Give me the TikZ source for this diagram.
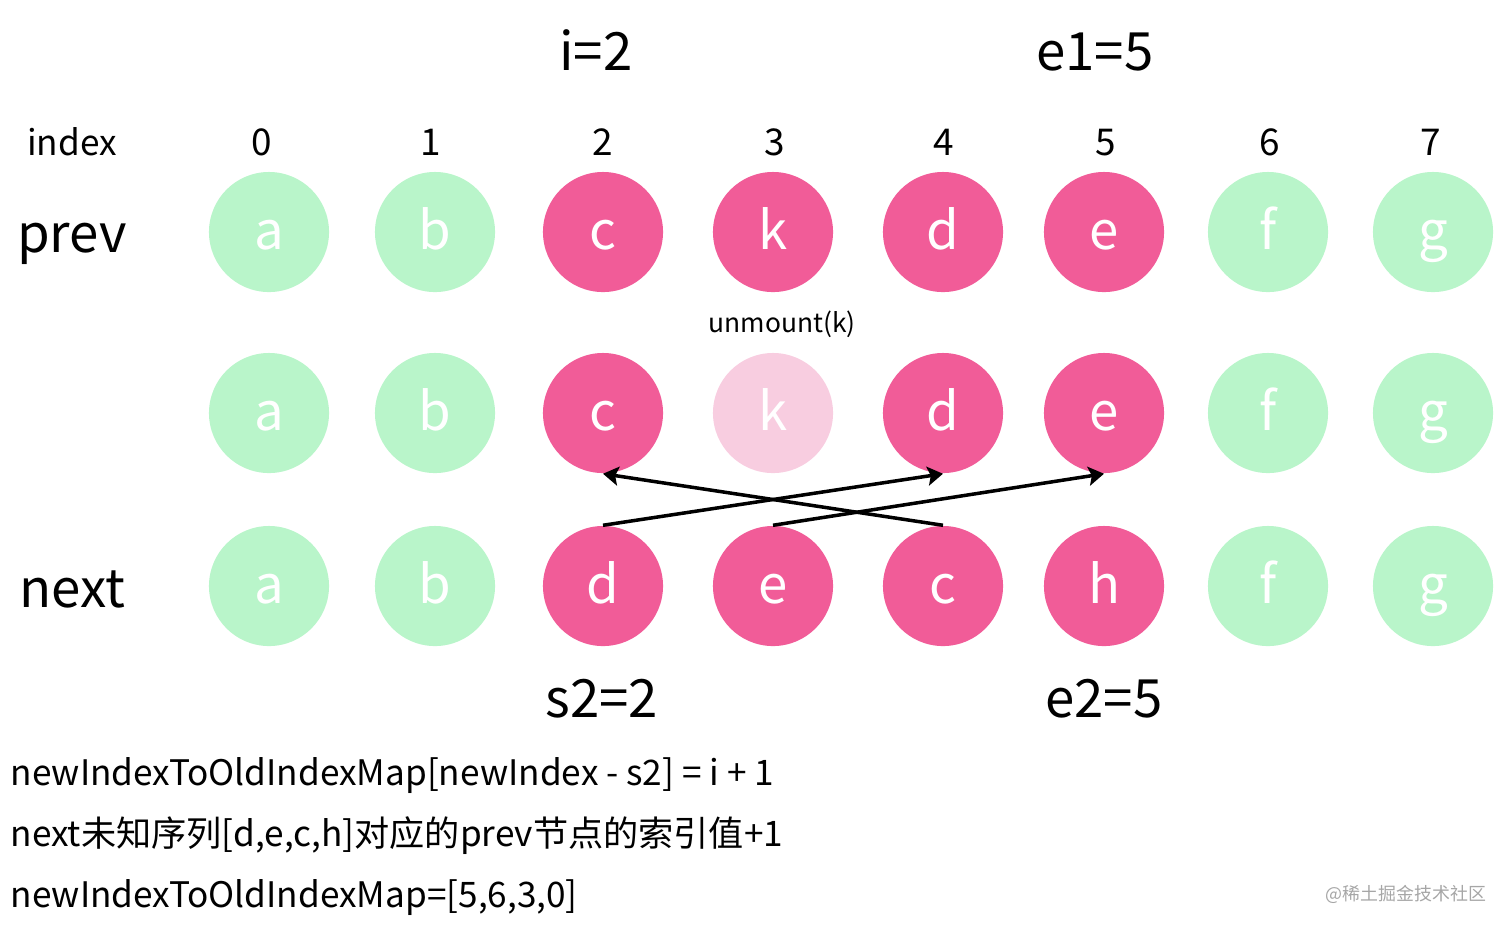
\documentclass[tikz,border=0pt]{standalone}
\usepackage{fontspec}
\setmainfont{Noto Sans CJK SC}
\usetikzlibrary{arrows.meta}
\definecolor{mint}{HTML}{B9F5CA}
\definecolor{rose}{HTML}{F15C98}
\definecolor{blush}{HTML}{F8CDE0}
\newcommand\fsz[1]{\fontsize{#1}{#1}\selectfont}
\begin{document}
\begin{tikzpicture}[x=0.01cm,y=-0.01cm,>={Stealth[length=4.4pt,width=5.4pt,inset=0.9pt]},
    ball/.style={circle,minimum size=1.2cm,inner sep=0,text=white,font=\fsz{15pt},text height=1em,text depth=0pt},
    old/.style={ball,fill=mint},
    hot/.style={ball,fill=rose},
    gone/.style={ball,fill=blush},
    lbl/.style={anchor=base,inner sep=0},
    big/.style={lbl,font=\fsz{15pt}},
    row/.style={lbl,font=\fsz{15pt}},
    note/.style={lbl,anchor=base west,font=\fsz{10pt}}]
    \useasboundingbox (0,0) rectangle (1512,929);
    \node[big] (i) at (596,70) {i=2};
    \node[big] (e1) at (1095,70) {e1=5};
    \node[lbl,font=\fsz{10pt}] (index) at (72,155) {index};
    \foreach \x [count=\i from 0] in {262,431,603,775,944,1106,1270,1431}
        \node[lbl,font=\fsz{10.5pt}] (d\i) at (\x,155) {\i};
    \node[row] (prev) at (72,252) {prev};
    \node[row] (next) at (72,607) {next};
    \foreach \x/\t/\s [count=\i from 0] in {269/a/old,435/b/old,603/c/hot,773/k/hot,943/d/hot,1104/e/hot,1268/f/old,1433/g/old}
        \node[\s] (p\i) at (\x,232) {\t};
    \node[lbl,font=\fsz{7.5pt}] (um) at (782,332) {unmount(k)};
    \foreach \x/\t/\s [count=\i from 0] in {269/a/old,435/b/old,603/c/hot,773/k/gone,943/d/hot,1104/e/hot,1268/f/old,1433/g/old}
        \node[\s] (m\i) at (\x,413) {\t};
    \foreach \x/\t/\s [count=\i from 0] in {269/a/old,435/b/old,603/d/hot,773/e/hot,943/c/hot,1104/h/hot,1268/f/old,1433/g/old}
        \node[\s] (n\i) at (\x,586) {\t};
    \draw[->,line width=1pt] (n2.north) -- (m4.south);
    \draw[->,line width=1pt] (n3.north) -- (m5.south);
    \draw[->,line width=1pt] (n4.north) -- (m2.south);
    \node[big] (s2) at (602,717) {s2=2};
    \node[big] (e2) at (1104,717) {e2=5};
    \node[note] (l1) at (10,785) {newIndexToOldIndexMap[newIndex - s2] = i + 1};
    \node[note] (l2) at (10,846) {next未知序列[d,e,c,h]对应的prev节点的索引值+1};
    \node[note] (l3) at (10,907) {newIndexToOldIndexMap=[5,6,3,0]};
    \node[lbl,anchor=base east,font=\fsz{5.1pt},text=black!35] (wm) at (1487,900) {@稀土掘金技术社区};
\end{tikzpicture}
\end{document}
